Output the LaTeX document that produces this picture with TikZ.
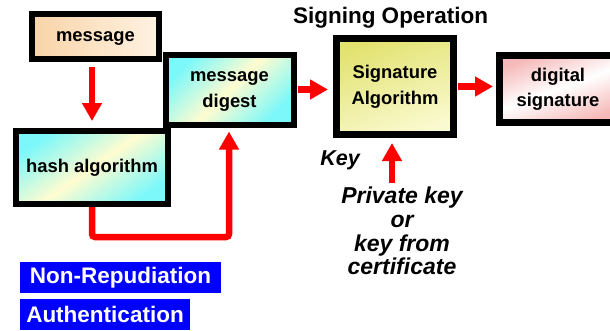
\documentclass[tikz,border=0pt]{standalone}
\usepackage{fontspec}
\setmainfont{Liberation Sans}
\usetikzlibrary{arrows.meta,calc}
\definecolor{peachA}{HTML}{F8D4A8}
\definecolor{peachB}{HTML}{FFF2E2}
\definecolor{cyanA}{HTML}{7CF8FA}
\definecolor{yelB}{HTML}{FFFCD0}
\definecolor{sigA}{HTML}{E2E270}
\definecolor{sigB}{HTML}{FAFAD0}
\definecolor{pinkA}{HTML}{F6B8B8}
\definecolor{pureblue}{HTML}{0000FF}
\newcommand\bxs{\rule[-7.65pt]{0pt}{25.5pt}}
\tikzset{
  box/.style={draw=black, line width=6pt, align=center, inner sep=0pt,
    font=\fontsize{18.4}{25.5}\selectfont\bfseries},
  fat/.style={draw=red, line width=6.5pt, -{Triangle[width=19pt,length=18pt]}},
  tag/.style={fill=pureblue, text=white, inner sep=0pt, minimum height=31pt,
    font=\fontsize{22.5}{26}\selectfont\bfseries}
}
\begin{document}
\begin{tikzpicture}[x=1pt,y=-1pt]
\useasboundingbox (0,0) rectangle (610,330);
\fill[white] (0,0) rectangle (610,330);

\node[box, minimum width=127pt, minimum height=45pt,
  left color=peachA, right color=peachB] (msg) at (95.5,36.5) {\bxs message};
\node[box, minimum width=128pt, minimum height=70pt,
  left color=cyanA, right color=cyanA, middle color=yelB, shading angle=45] (dig) at (229.5,89.5) {\bxs message\\\bxs digest};
\node[box, minimum width=152pt, minimum height=73pt,
  left color=cyanA, right color=cyanA, middle color=yelB, shading angle=35] (hash) at (92,167.5) {\bxs hash algorithm};
\node[box, line width=7pt, minimum width=117pt, minimum height=96pt,
  left color=sigA, right color=sigB, shading angle=20] (sig) at (395,86.5) {\bxs Signature\\\bxs Algorithm};
\node[box, line width=7pt, minimum width=117pt, minimum height=67pt,
  left color=pinkA, right color=pinkA, middle color=white, shading angle=20] (dsig) at (558,89) {\bxs digital\\\bxs signature};

\node[font=\fontsize{22.5}{26}\selectfont\bfseries] (title) at (390.5,18) {Signing Operation};
\node[font=\fontsize{21.5}{26}\selectfont\bfseries\itshape] (key) at (340,160) {Key};
\node[align=center, inner sep=0pt, font=\fontsize{23}{23.7}\selectfont\bfseries\itshape] (pk) at (402,231) {Private key\\or\\key from\\certificate};

\node[tag, minimum width=201pt] (nr) at (120.5,277.5) {Non-Repudiation};
\node[tag, minimum width=170pt] (au) at (105,314.5) {Authentication};

\coordinate (bend) at (229,237);
\coordinate (ktail) at (392,183);

\draw[fat, shorten <=5pt, shorten >=7pt] (msg.south -| hash.north) -- (hash.north);
\draw[fat, rounded corners=3pt, shorten >=4pt] (hash.south) |- (bend) -- (dig.south -| bend);
\draw[fat, shorten <=1pt, shorten >=5pt] (dig.east) -- (sig.west |- dig.east);
\draw[fat, shorten <=1pt, shorten >=3pt] (sig.east) -- (dsig.west |- sig.east);
\draw[fat, shorten >=5pt] (ktail) -- (sig.south -| ktail);
\end{tikzpicture}
\end{document}
